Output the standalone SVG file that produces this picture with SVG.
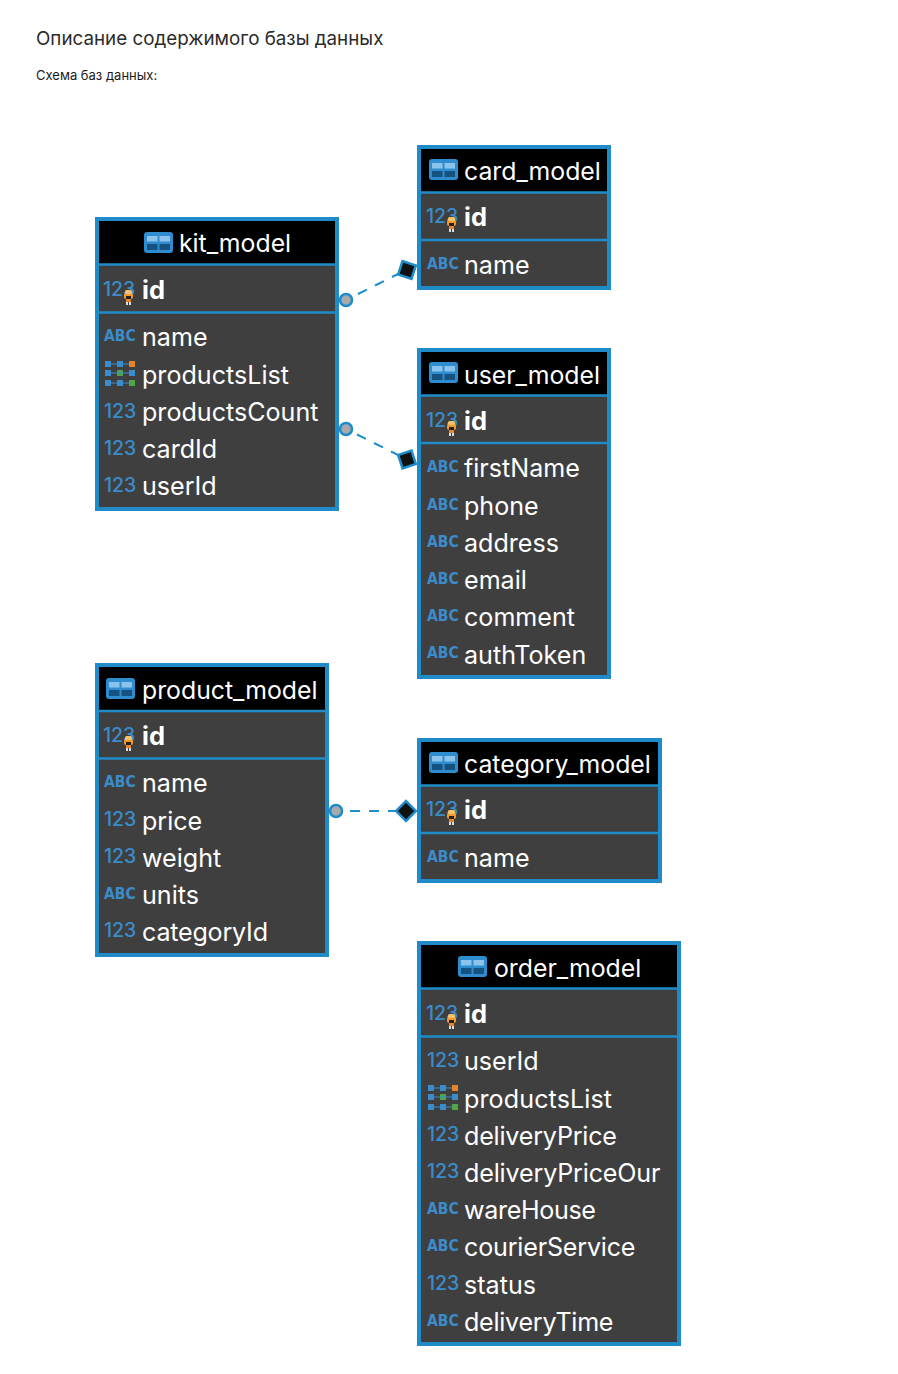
<svg xmlns="http://www.w3.org/2000/svg" width="898" height="1374" viewBox="0 0 898 1374">
<style>
text{font-family:"Inter","Liberation Sans",sans-serif}
.box{fill:#3f3f3f;stroke:#1f8cc9;stroke-width:4}
.head{fill:#000}
.sep{stroke:#1f8cc9;stroke-width:2.5;fill:none}
.t{fill:#fff;font-size:25.1px}
.title{fill:#fff;font-size:24.8px}
.pk{fill:#fff;font-size:25.5px;font-weight:700}
.num{fill:#3b8ccb;font-size:19.5px;font-weight:500}
.abc{fill:#3b8ccb;font-family:"DejaVu Sans",sans-serif;font-stretch:condensed;font-size:15.5px;font-weight:700}
.h1{fill:#2b2b2b;font-size:18.8px}
.h2{fill:#1c1c1c;font-size:13px}
.conn{stroke:#1f8fc9;stroke-width:2;stroke-dasharray:10 9;fill:none}
.start{fill:#a9a9a9;stroke:#1f8cc9;stroke-width:2.5}
.end{fill:#111;stroke:#1f8cc9;stroke-width:2.5}
</style>
<defs>
<g id="tbl"><rect width="29" height="21" rx="3" fill="#2f8ccf"/><rect x="3" y="4" width="10.500" height="5.500" fill="#8cc3ea"/><rect x="15.500" y="4" width="10.500" height="5.500" fill="#8cc3ea"/><rect x="3" y="12" width="10.500" height="6" fill="#15527f"/><rect x="15.500" y="12" width="10.500" height="6" fill="#15527f"/></g>
<g id="key"><rect x="1" y="3" width="9" height="6" rx="2" fill="#f29a2e"/><rect x="2" y="0" width="7" height="4" rx="1.500" fill="#f7c26a"/><rect x="3" y="6" width="5" height="3" fill="#222"/><rect x="3" y="9" width="5" height="3" fill="#e9862b"/><rect x="3" y="12" width="2" height="3" fill="#ddd"/><rect x="6" y="12" width="2" height="3" fill="#ddd"/></g>
<g id="arr"><g fill="#3b8ccb"><rect y="0" width="6" height="6"/><rect x="12" y="0" width="6" height="6"/><rect y="9" width="6" height="6"/><rect y="19" width="6" height="6"/><rect x="12" y="19" width="6" height="6"/><rect x="24" y="9" width="6" height="6"/></g><rect x="24" y="0" width="6" height="6" fill="#e8832a"/><rect x="12" y="9" width="6" height="6" fill="#4fa648"/><rect x="24" y="19" width="6" height="6" fill="#4fa648"/><path d="M6 3H24M6 12H24M6 22H24" stroke="#3b8ccb" stroke-width="1"/></g>
</defs>
<text class="h1" x="36" y="45">Описание содержимого базы данных</text>
<text class="h2" x="36" y="80">Схема баз данных:</text>

<g id="connectors">
<path class="conn" d="M358 294L400 273"/>
<path class="conn" d="M357 434.500L400 456"/>
<path class="conn" d="M350 811L400 811"/>
<circle class="start" cx="346" cy="300" r="6"/>
<circle class="start" cx="346" cy="429" r="6"/>
<circle class="start" cx="336" cy="811" r="6"/>
<rect class="end" x="-7" y="-7" width="14" height="14" transform="translate(407 270) rotate(18)"/>
<rect class="end" x="-7" y="-7" width="14" height="14" transform="translate(407 459.500) rotate(-18)"/>
<rect class="end" x="-7" y="-7" width="14" height="14" transform="translate(406 811) rotate(45)"/>
</g>

<g id="kit_model">
<rect class="box" x="97" y="219" width="240" height="290"/><rect class="head" x="99" y="221" width="236" height="43"/>
<path class="sep" d="M97 264.500H337M97 312.500H337"/>
<use href="#tbl" x="144" y="232"/><text class="title" x="179" y="252">kit_model</text>
<text class="num" x="103" y="296">123</text><use href="#key" x="123" y="290"/><text class="pk" x="142" y="299">id</text>
<text class="abc" x="104" y="341">ABC</text><text class="t" x="142" y="346">name</text>
<use href="#arr" x="105" y="361"/><text class="t" x="142" y="384">productsList</text>
<text class="num" x="104" y="418">123</text><text class="t" x="142" y="421">productsCount</text>
<text class="num" x="104" y="455">123</text><text class="t" x="142" y="458">cardId</text>
<text class="num" x="104" y="492">123</text><text class="t" x="142" y="495">userId</text>
</g>

<g id="card_model">
<rect class="box" x="419" y="147" width="190" height="141"/><rect class="head" x="421" y="149" width="186" height="43"/>
<path class="sep" d="M419 192.500H609M419 240H609"/>
<use href="#tbl" x="429" y="159"/><text class="title" x="464" y="180">card_model</text>
<text class="num" x="426" y="223">123</text><use href="#key" x="446" y="217"/><text class="pk" x="464" y="226">id</text>
<text class="abc" x="427" y="269">ABC</text><text class="t" x="464" y="274">name</text>
</g>

<g id="user_model">
<rect class="box" x="419" y="350" width="190" height="327"/><rect class="head" x="421" y="352" width="186" height="43"/>
<path class="sep" d="M419 395.500H609M419 443H609"/>
<use href="#tbl" x="429" y="362"/><text class="title" x="464" y="384">user_model</text>
<text class="num" x="426" y="427">123</text><use href="#key" x="446" y="421"/><text class="pk" x="464" y="430">id</text>
<text class="abc" x="427" y="472">ABC</text><text class="t" x="464" y="477">firstName</text>
<text class="abc" x="427" y="510">ABC</text><text class="t" x="464" y="515">phone</text>
<text class="abc" x="427" y="547">ABC</text><text class="t" x="464" y="552">address</text>
<text class="abc" x="427" y="584">ABC</text><text class="t" x="464" y="589">email</text>
<text class="abc" x="427" y="621">ABC</text><text class="t" x="464" y="626">comment</text>
<text class="abc" x="427" y="658">ABC</text><text class="t" x="464" y="663.500">authToken</text>
</g>

<g id="product_model">
<rect class="box" x="97" y="665" width="230" height="290"/><rect class="head" x="99" y="667" width="226" height="43"/>
<path class="sep" d="M97 711H327M97 758.500H327"/>
<use href="#tbl" x="106" y="678"/><text class="title" x="142" y="699">product_model</text>
<text class="num" x="103" y="742">123</text><use href="#key" x="123" y="736"/><text class="pk" x="142" y="745">id</text>
<text class="abc" x="104" y="787">ABC</text><text class="t" x="142" y="792">name</text>
<text class="num" x="104" y="826">123</text><text class="t" x="142" y="830">price</text>
<text class="num" x="104" y="863">123</text><text class="t" x="142" y="867">weight</text>
<text class="abc" x="104" y="899">ABC</text><text class="t" x="142" y="904">units</text>
<text class="num" x="104" y="937">123</text><text class="t" x="142" y="941" textLength="126">categoryId</text>
</g>

<g id="category_model">
<rect class="box" x="419" y="740" width="241" height="141"/><rect class="head" x="421" y="742" width="237" height="43"/>
<path class="sep" d="M419 785.500H660M419 833H660"/>
<use href="#tbl" x="429" y="752"/><text class="title" x="464" y="773">category_model</text>
<text class="num" x="426" y="816">123</text><use href="#key" x="446" y="810"/><text class="pk" x="464" y="819">id</text>
<text class="abc" x="427" y="862">ABC</text><text class="t" x="464" y="867">name</text>
</g>

<g id="order_model">
<rect class="box" x="419" y="943" width="260" height="401"/><rect class="head" x="421" y="945" width="256" height="43"/>
<path class="sep" d="M419 988.500H679M419 1036.500H679"/>
<use href="#tbl" x="458" y="956"/><text class="title" x="494" y="977">order_model</text>
<text class="num" x="426" y="1020">123</text><use href="#key" x="446" y="1014"/><text class="pk" x="464" y="1023">id</text>
<text class="num" x="427" y="1067">123</text><text class="t" x="464" y="1070">userId</text>
<use href="#arr" x="428" y="1085"/><text class="t" x="464" y="1108" textLength="148">productsList</text>
<text class="num" x="427" y="1141">123</text><text class="t" x="464" y="1145" textLength="153">deliveryPrice</text>
<text class="num" x="427" y="1178">123</text><text class="t" x="464" y="1182" textLength="196.500">deliveryPriceOur</text>
<text class="abc" x="427" y="1214">ABC</text><text class="t" x="464" y="1219" textLength="132">wareHouse</text>
<text class="abc" x="427" y="1251">ABC</text><text class="t" x="464" y="1256" textLength="171.500">courierService</text>
<text class="num" x="427" y="1290">123</text><text class="t" x="464" y="1294">status</text>
<text class="abc" x="427" y="1326">ABC</text><text class="t" x="464" y="1331" textLength="149.500">deliveryTime</text>
</g>
</svg>
